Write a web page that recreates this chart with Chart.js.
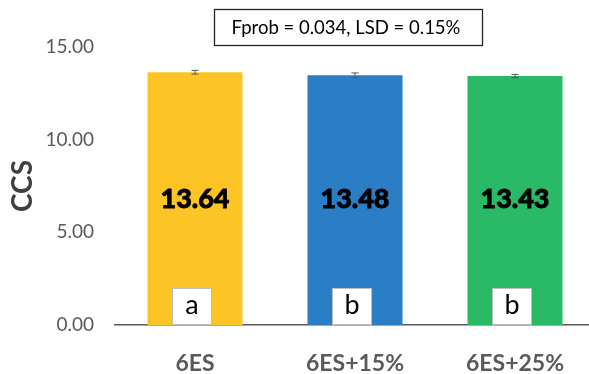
<!DOCTYPE html>
<html>
<head>
<meta charset="utf-8">
<script src="https://cdn.jsdelivr.net/npm/chart.js@4.4.1/dist/chart.umd.min.js"></script>
<style>
  html, body { margin: 0; padding: 0; background: #fff; overflow: hidden; }
  #wrap { width: 600px; height: 374px; position: relative; }
</style>
</head>
<body>
<div id="wrap"><canvas id="c"></canvas></div>
<script>
// Treatments and mean CCS with standard errors and LSD grouping letters
const categories = ['6ES', '6ES+15%', '6ES+25%'];
const ccsMeans = [13.64, 13.48, 13.43];
const ccsErrors = [0.10, 0.12, 0.09];
const groupLetters = ['a', 'b', 'b'];
const barColors = ['#FDC425', '#2B7DC6', '#29B967'];
const yTicks = [0, 5, 10, 15];
const statsNote = 'Fprob = 0.034, LSD = 0.15%';

const FONT = 'Lato, "Open Sans", sans-serif';

const overlay = {
  id: 'overlay',
  afterDatasetsDraw(chart) {
    const { ctx, scales: { x, y } } = chart;
    const meta = chart.getDatasetMeta(0);
    ctx.save();
    meta.data.forEach((bar, i) => {
      const cx = bar.x;
      // error bar
      const yHi = y.getPixelForValue(ccsMeans[i] + ccsErrors[i]);
      const yLo = y.getPixelForValue(ccsMeans[i] - ccsErrors[i]);
      ctx.strokeStyle = '#595959';
      ctx.lineWidth = 1;
      ctx.beginPath();
      ctx.moveTo(cx, yHi); ctx.lineTo(cx, yLo);
      ctx.moveTo(cx - 3.5, yHi); ctx.lineTo(cx + 3.5, yHi);
      ctx.moveTo(cx - 3.5, yLo); ctx.lineTo(cx + 3.5, yLo);
      ctx.stroke();

      // value label (slightly stroked for a heavier weight)
      ctx.fillStyle = '#000';
      ctx.strokeStyle = '#000';
      ctx.lineWidth = 0.8;
      ctx.font = '900 27px ' + FONT;
      ctx.textAlign = 'center';
      ctx.textBaseline = 'middle';
      const vy = y.getPixelForValue(6.8);
      ctx.fillText(ccsMeans[i].toFixed(2), cx, vy);
      ctx.strokeText(ccsMeans[i].toFixed(2), cx, vy);

      // grouping letter box
      const bw = 40, bh = 37;
      const base = y.getPixelForValue(0);
      ctx.fillStyle = '#fff';
      ctx.fillRect(cx - bw / 2 - 3, base - bh, bw, bh);
      ctx.strokeStyle = '#bfbfbf';
      ctx.lineWidth = 1;
      ctx.strokeRect(cx - bw / 2 - 3 + 0.5, base - bh + 0.5, bw - 1, bh - 1);
      ctx.fillStyle = '#000';
      ctx.font = '27px ' + FONT;
      ctx.fillText(groupLetters[i], cx - 3, base - bh / 2 - 1);
    });

    // statistics note box
    ctx.fillStyle = '#fff';
    ctx.fillRect(214, 9, 269, 37);
    ctx.strokeStyle = '#262626';
    ctx.lineWidth = 1.3;
    ctx.strokeRect(214.5, 9.5, 268, 36);
    ctx.fillStyle = '#000';
    ctx.font = '18.5px ' + FONT;
    ctx.textAlign = 'center';
    ctx.textBaseline = 'middle';
    ctx.fillText(statsNote, 346, 28.5);
    ctx.restore();
  }
};

new Chart(document.getElementById('c'), {
  type: 'bar',
  data: {
    labels: categories,
    datasets: [{
      data: ccsMeans,
      backgroundColor: barColors,
      borderWidth: 0,
      barPercentage: 0.594,
      categoryPercentage: 1.0
    }]
  },
  options: {
    responsive: true,
    maintainAspectRatio: false,
    animation: false,
    layout: { padding: { top: 47, right: 5, bottom: 0, left: 0 } },
    plugins: { legend: { display: false }, tooltip: { enabled: false } },
    scales: {
      x: {
        grid: { display: false, drawTicks: false },
        border: { display: true, color: '#595959', width: 1.5 },
        ticks: {
          color: '#595959',
          font: { family: FONT, size: 23, weight: 'bold' },
          padding: 25
        },
        afterFit(scale) { scale.height = 49; }
      },
      y: {
        min: 0,
        max: 15,
        afterBuildTicks(scale) { scale.ticks = yTicks.map(v => ({ value: v })); },
        grid: { display: false, drawTicks: false },
        border: { display: false },
        ticks: {
          color: '#595959',
          font: { family: FONT, size: 19 },
          padding: 21,
          callback: v => Number(v).toFixed(2)
        },
        title: {
          display: true,
          text: 'CCS',
          color: '#404040',
          font: { family: FONT, size: 28, weight: 'bold' },
          padding: { top: 6, bottom: 0 }
        },
        afterFit(scale) { scale.width = 115; }
      }
    }
  },
  plugins: [overlay]
});
</script>
</body>
</html>
